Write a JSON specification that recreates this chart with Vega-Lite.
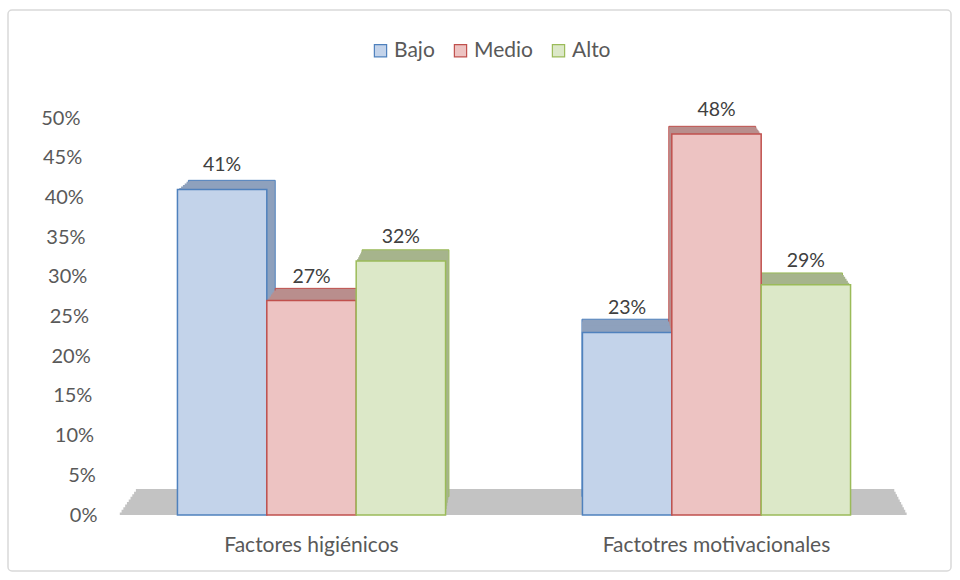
{
  "$schema": "https://vega.github.io/schema/vega-lite/v6.json",
  "width": 810,
  "height": 397,
  "autosize": {"type": "none"},
  "padding": {"left": 109, "top": 118, "right": 41, "bottom": 65},
  "background": "white",
  "config": {"view": {"stroke": null}, "font": "Lato"},
  "data": {
    "values": [
      {"group": "Factores higiénicos", "series": "Bajo", "value": 0.41},
      {"group": "Factores higiénicos", "series": "Medio", "value": 0.27},
      {"group": "Factores higiénicos", "series": "Alto", "value": 0.32},
      {"group": "Factotres motivacionales", "series": "Bajo", "value": 0.23},
      {"group": "Factotres motivacionales", "series": "Medio", "value": 0.48},
      {"group": "Factotres motivacionales", "series": "Alto", "value": 0.29}
    ]
  },
  "layer": [
    {
      "data": {"values": [{}]},
      "mark": {"type": "rect", "fill": null, "stroke": "#d9d9d9", "strokeWidth": 1.5, "cornerRadius": 4},
      "encoding": {
        "x": {"datum": 0, "type": "quantitative", "scale": {"domain": [0, 1], "range": [-101, 842]}, "axis": null},
        "x2": {"datum": 1},
        "y": {"datum": 0, "type": "quantitative", "scale": {"domain": [0, 1], "range": [-108, 453]}, "axis": null},
        "y2": {"datum": 1}
      }
    },
    {
      "data": {"values": [{}]},
      "mark": {"type": "rect", "fill": "#c3c3c3"},
      "encoding": {
        "x": {"datum": 0, "type": "quantitative", "scale": {"domain": [0, 1], "range": [26.88, 785.28]}, "axis": null},
        "x2": {"datum": 1},
        "y": {"datum": 0, "type": "quantitative", "scale": {"domain": [0, 1], "range": [371.04, 397]}, "axis": null},
        "y2": {"datum": 1}
      }
    },
    {
      "data": {"values": [{}]},
      "mark": {"type": "rect", "fill": "#c3c3c3"},
      "encoding": {
        "x": {"datum": 0, "type": "quantitative", "scale": {"domain": [0, 1], "range": [25.09, 786.65]}, "axis": null},
        "x2": {"datum": 1},
        "y": {"datum": 0, "type": "quantitative", "scale": {"domain": [0, 1], "range": [373.64, 397]}, "axis": null},
        "y2": {"datum": 1}
      }
    },
    {
      "data": {"values": [{}]},
      "mark": {"type": "rect", "fill": "#c3c3c3"},
      "encoding": {
        "x": {"datum": 0, "type": "quantitative", "scale": {"domain": [0, 1], "range": [23.30, 788.02]}, "axis": null},
        "x2": {"datum": 1},
        "y": {"datum": 0, "type": "quantitative", "scale": {"domain": [0, 1], "range": [376.23, 397]}, "axis": null},
        "y2": {"datum": 1}
      }
    },
    {
      "data": {"values": [{}]},
      "mark": {"type": "rect", "fill": "#c3c3c3"},
      "encoding": {
        "x": {"datum": 0, "type": "quantitative", "scale": {"domain": [0, 1], "range": [21.52, 789.40]}, "axis": null},
        "x2": {"datum": 1},
        "y": {"datum": 0, "type": "quantitative", "scale": {"domain": [0, 1], "range": [378.83, 397]}, "axis": null},
        "y2": {"datum": 1}
      }
    },
    {
      "data": {"values": [{}]},
      "mark": {"type": "rect", "fill": "#c3c3c3"},
      "encoding": {
        "x": {"datum": 0, "type": "quantitative", "scale": {"domain": [0, 1], "range": [19.73, 790.77]}, "axis": null},
        "x2": {"datum": 1},
        "y": {"datum": 0, "type": "quantitative", "scale": {"domain": [0, 1], "range": [381.42, 397]}, "axis": null},
        "y2": {"datum": 1}
      }
    },
    {
      "data": {"values": [{}]},
      "mark": {"type": "rect", "fill": "#c3c3c3"},
      "encoding": {
        "x": {"datum": 0, "type": "quantitative", "scale": {"domain": [0, 1], "range": [17.94, 792.14]}, "axis": null},
        "x2": {"datum": 1},
        "y": {"datum": 0, "type": "quantitative", "scale": {"domain": [0, 1], "range": [384.02, 397]}, "axis": null},
        "y2": {"datum": 1}
      }
    },
    {
      "data": {"values": [{}]},
      "mark": {"type": "rect", "fill": "#c3c3c3"},
      "encoding": {
        "x": {"datum": 0, "type": "quantitative", "scale": {"domain": [0, 1], "range": [16.15, 793.51]}, "axis": null},
        "x2": {"datum": 1},
        "y": {"datum": 0, "type": "quantitative", "scale": {"domain": [0, 1], "range": [386.62, 397]}, "axis": null},
        "y2": {"datum": 1}
      }
    },
    {
      "data": {"values": [{}]},
      "mark": {"type": "rect", "fill": "#c3c3c3"},
      "encoding": {
        "x": {"datum": 0, "type": "quantitative", "scale": {"domain": [0, 1], "range": [14.36, 794.88]}, "axis": null},
        "x2": {"datum": 1},
        "y": {"datum": 0, "type": "quantitative", "scale": {"domain": [0, 1], "range": [389.21, 397]}, "axis": null},
        "y2": {"datum": 1}
      }
    },
    {
      "data": {"values": [{}]},
      "mark": {"type": "rect", "fill": "#c3c3c3"},
      "encoding": {
        "x": {"datum": 0, "type": "quantitative", "scale": {"domain": [0, 1], "range": [12.58, 796.26]}, "axis": null},
        "x2": {"datum": 1},
        "y": {"datum": 0, "type": "quantitative", "scale": {"domain": [0, 1], "range": [391.81, 397]}, "axis": null},
        "y2": {"datum": 1}
      }
    },
    {
      "data": {"values": [{}]},
      "mark": {"type": "rect", "fill": "#c3c3c3"},
      "encoding": {
        "x": {"datum": 0, "type": "quantitative", "scale": {"domain": [0, 1], "range": [10.79, 797.63]}, "axis": null},
        "x2": {"datum": 1},
        "y": {"datum": 0, "type": "quantitative", "scale": {"domain": [0, 1], "range": [394.40, 397]}, "axis": null},
        "y2": {"datum": 1}
      }
    },
    {
      "mark": {"type": "bar", "strokeWidth": 1},
      "encoding": {
        "x": {"field": "group", "type": "nominal", "scale": {"domain": ["Factores higiénicos", "Factotres motivacionales"], "range": [12.86, 800.02], "paddingInner": 0.338, "paddingOuter": 0.169}, "axis": null},
        "xOffset": {"field": "series", "type": "nominal", "scale": {"domain": ["Bajo", "Medio", "Alto"], "paddingInner": 0, "paddingOuter": 0}},
        "y": {"field": "value", "type": "quantitative", "scale": {"domain": [0, 0.5], "range": [378.70, -7.11]}, "axis": null},
        "fill": {"field": "series", "type": "nominal", "scale": {"domain": ["Bajo", "Medio", "Alto"], "range": ["#8ea1bd", "#b98e8d", "#a6b48c"]}, "legend": null},
        "stroke": {"field": "series", "type": "nominal", "scale": {"domain": ["Bajo", "Medio", "Alto"], "range": ["#4f81bd", "#c0504d", "#9bbb59"]}, "legend": null}
      }
    },
    {
      "mark": {"type": "bar"},
      "encoding": {
        "x": {"field": "group", "type": "nominal", "scale": {"domain": ["Factores higiénicos", "Factotres motivacionales"], "range": [10.72, 801.68], "paddingInner": 0.338, "paddingOuter": 0.169}, "axis": null},
        "xOffset": {"field": "series", "type": "nominal", "scale": {"domain": ["Bajo", "Medio", "Alto"], "paddingInner": 0, "paddingOuter": 0}},
        "y": {"field": "value", "type": "quantitative", "scale": {"domain": [0, 0.5], "range": [381.75, -5.92]}, "axis": null},
        "fill": {"field": "series", "type": "nominal", "scale": {"domain": ["Bajo", "Medio", "Alto"], "range": ["#8ea1bd", "#b98e8d", "#a6b48c"]}, "legend": null}
      }
    },
    {
      "mark": {"type": "bar"},
      "encoding": {
        "x": {"field": "group", "type": "nominal", "scale": {"domain": ["Factores higiénicos", "Factotres motivacionales"], "range": [8.57, 803.35], "paddingInner": 0.338, "paddingOuter": 0.169}, "axis": null},
        "xOffset": {"field": "series", "type": "nominal", "scale": {"domain": ["Bajo", "Medio", "Alto"], "paddingInner": 0, "paddingOuter": 0}},
        "y": {"field": "value", "type": "quantitative", "scale": {"domain": [0, 0.5], "range": [384.80, -4.74]}, "axis": null},
        "fill": {"field": "series", "type": "nominal", "scale": {"domain": ["Bajo", "Medio", "Alto"], "range": ["#8ea1bd", "#b98e8d", "#a6b48c"]}, "legend": null}
      }
    },
    {
      "mark": {"type": "bar"},
      "encoding": {
        "x": {"field": "group", "type": "nominal", "scale": {"domain": ["Factores higiénicos", "Factotres motivacionales"], "range": [6.43, 805.01], "paddingInner": 0.338, "paddingOuter": 0.169}, "axis": null},
        "xOffset": {"field": "series", "type": "nominal", "scale": {"domain": ["Bajo", "Medio", "Alto"], "paddingInner": 0, "paddingOuter": 0}},
        "y": {"field": "value", "type": "quantitative", "scale": {"domain": [0, 0.5], "range": [387.85, -3.55]}, "axis": null},
        "fill": {"field": "series", "type": "nominal", "scale": {"domain": ["Bajo", "Medio", "Alto"], "range": ["#8ea1bd", "#b98e8d", "#a6b48c"]}, "legend": null}
      }
    },
    {
      "mark": {"type": "bar"},
      "encoding": {
        "x": {"field": "group", "type": "nominal", "scale": {"domain": ["Factores higiénicos", "Factotres motivacionales"], "range": [4.29, 806.67], "paddingInner": 0.338, "paddingOuter": 0.169}, "axis": null},
        "xOffset": {"field": "series", "type": "nominal", "scale": {"domain": ["Bajo", "Medio", "Alto"], "paddingInner": 0, "paddingOuter": 0}},
        "y": {"field": "value", "type": "quantitative", "scale": {"domain": [0, 0.5], "range": [390.90, -2.37]}, "axis": null},
        "fill": {"field": "series", "type": "nominal", "scale": {"domain": ["Bajo", "Medio", "Alto"], "range": ["#8ea1bd", "#b98e8d", "#a6b48c"]}, "legend": null}
      }
    },
    {
      "mark": {"type": "bar"},
      "encoding": {
        "x": {"field": "group", "type": "nominal", "scale": {"domain": ["Factores higiénicos", "Factotres motivacionales"], "range": [2.14, 808.34], "paddingInner": 0.338, "paddingOuter": 0.169}, "axis": null},
        "xOffset": {"field": "series", "type": "nominal", "scale": {"domain": ["Bajo", "Medio", "Alto"], "paddingInner": 0, "paddingOuter": 0}},
        "y": {"field": "value", "type": "quantitative", "scale": {"domain": [0, 0.5], "range": [393.95, -1.18]}, "axis": null},
        "fill": {"field": "series", "type": "nominal", "scale": {"domain": ["Bajo", "Medio", "Alto"], "range": ["#8ea1bd", "#b98e8d", "#a6b48c"]}, "legend": null}
      }
    },
    {
      "mark": {"type": "bar", "strokeWidth": 1.5},
      "encoding": {
        "x": {
          "field": "group", "type": "nominal",
          "scale": {"domain": ["Factores higiénicos", "Factotres motivacionales"], "paddingInner": 0.338, "paddingOuter": 0.169},
          "axis": {"title": null, "domain": false, "ticks": false, "labelAngle": 0, "labelFontSize": 21, "labelColor": "#595959", "labelPadding": 19, "labelLimit": 0}
        },
        "xOffset": {"field": "series", "type": "nominal", "scale": {"domain": ["Bajo", "Medio", "Alto"], "paddingInner": 0, "paddingOuter": 0}},
        "y": {
          "field": "value", "type": "quantitative",
          "scale": {"domain": [0, 0.5]},
          "axis": {
            "title": null, "domain": false, "ticks": false, "grid": false,
            "values": [0, 0.05, 0.1, 0.15, 0.2, 0.25, 0.3, 0.35, 0.4, 0.45, 0.5],
            "format": ".0%", "labelFontSize": 20, "labelColor": "#595959",
            "labelPadding": {"expr": "12 + datum.value * 34"}
          }
        },
        "fill": {
          "field": "series", "type": "nominal",
          "scale": {"domain": ["Bajo", "Medio", "Alto"], "range": ["#c3d3ea", "#edc3c2", "#dce8c8"]},
          "legend": {"title": null, "orient": "none", "legendX": 261, "legendY": -78, "direction": "horizontal", "symbolType": "square", "symbolSize": 150, "symbolStrokeWidth": 1.2, "labelFontSize": 21, "labelColor": "#595959", "columnPadding": 15, "labelOffset": 3}
        },
        "stroke": {
          "field": "series", "type": "nominal",
          "scale": {"domain": ["Bajo", "Medio", "Alto"], "range": ["#4f81bd", "#c0504d", "#9bbb59"]},
          "legend": {"title": null, "orient": "none", "legendX": 261, "legendY": -78, "direction": "horizontal", "symbolType": "square", "symbolSize": 150, "symbolStrokeWidth": 1.2, "labelFontSize": 21, "labelColor": "#595959", "columnPadding": 15, "labelOffset": 3}
        }
      }
    },
    {
      "mark": {"type": "text", "dy": -18, "fontSize": 19.5, "color": "#404040", "baseline": "alphabetic"},
      "encoding": {
        "x": {"field": "group", "type": "nominal", "scale": {"type": "band", "domain": ["Factores higiénicos", "Factotres motivacionales"], "paddingInner": 0.338, "paddingOuter": 0.169}, "axis": null},
        "xOffset": {"field": "series", "type": "nominal", "scale": {"type": "band", "domain": ["Bajo", "Medio", "Alto"], "paddingInner": 0, "paddingOuter": 0}},
        "y": {"field": "value", "type": "quantitative", "scale": {"domain": [0, 0.5]}, "axis": null},
        "text": {"field": "value", "type": "quantitative", "format": ".0%"}
      }
    }
  ],
  "resolve": {
    "scale": {"x": "independent", "y": "independent", "xOffset": "independent", "fill": "independent", "stroke": "independent"}
  }
}
